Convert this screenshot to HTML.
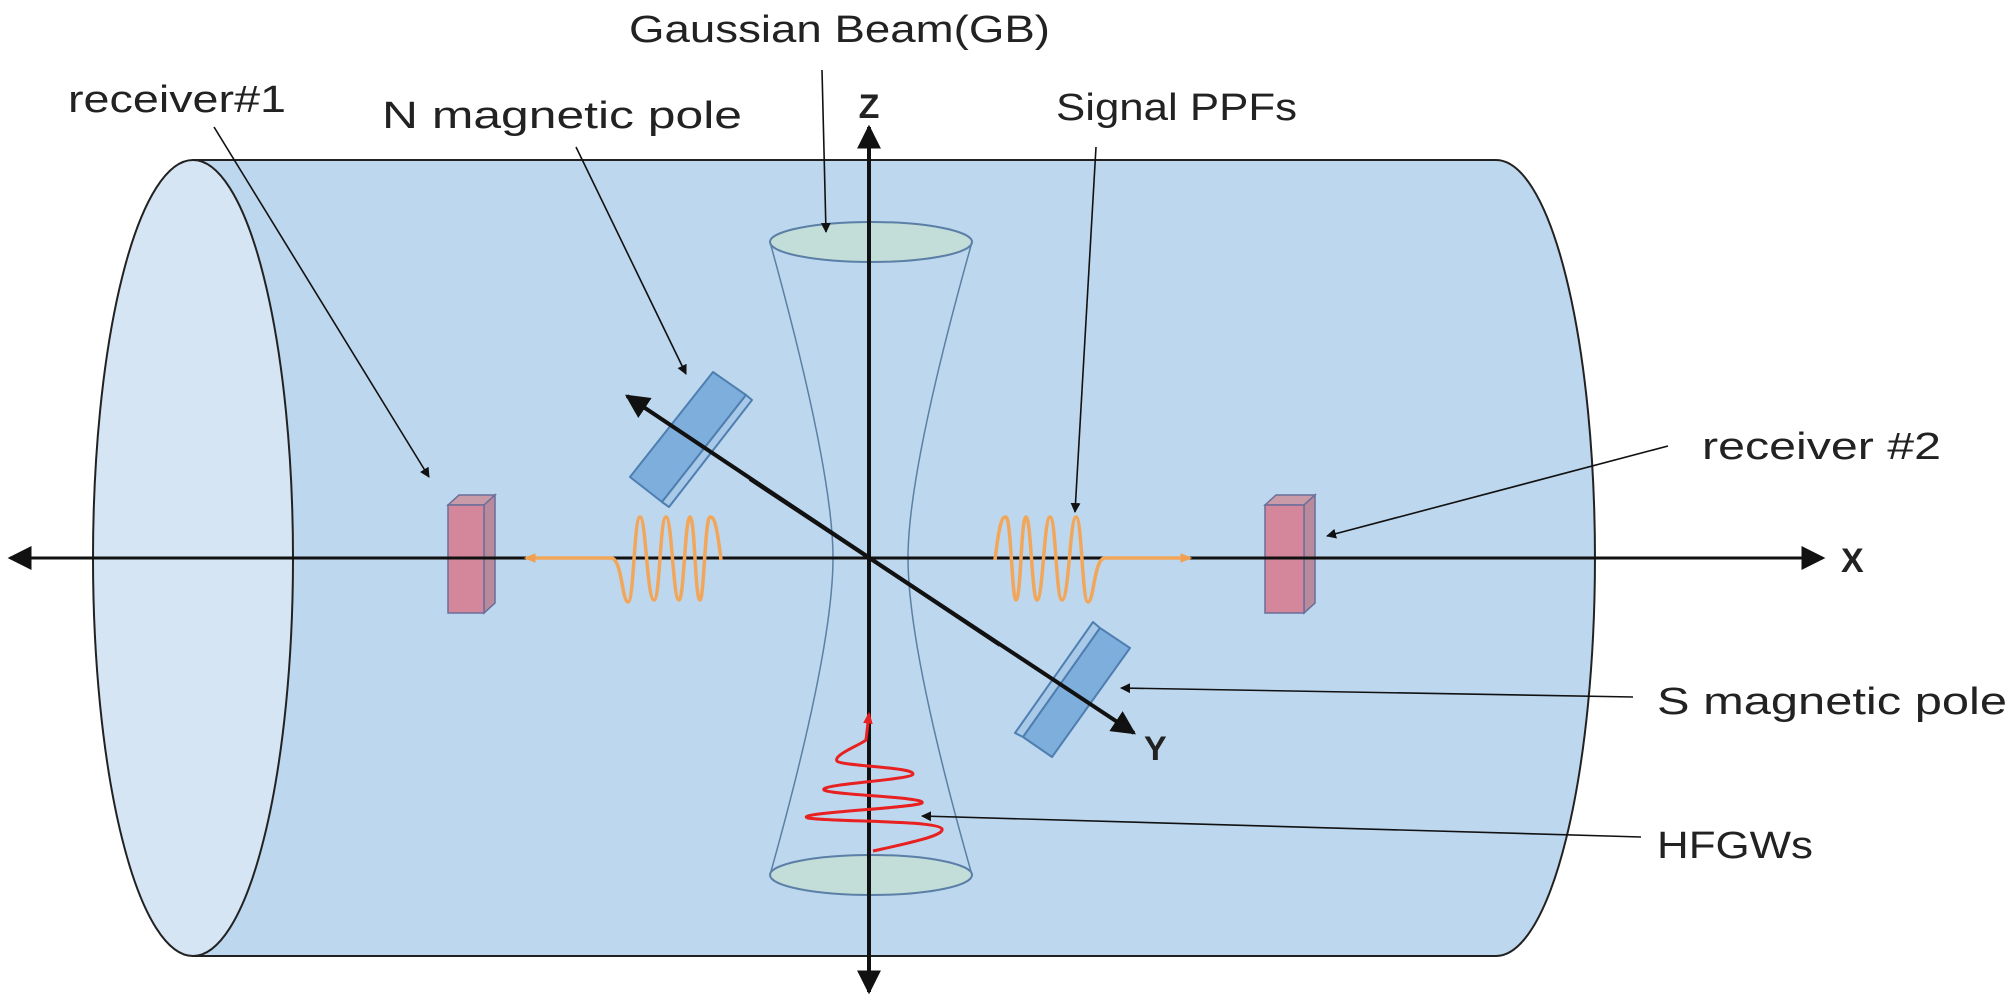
<!DOCTYPE html>
<html><head><meta charset="utf-8"><style>
html,body{margin:0;padding:0;background:#fff;}
svg{display:block;}
text{font-family:"Liberation Sans",sans-serif;fill:#222;}
</style></head><body>
<svg width="2009" height="1003" viewBox="0 0 2009 1003" xmlns="http://www.w3.org/2000/svg">
<defs>
<marker id="ah" viewBox="0 0 10 10" refX="9" refY="5" markerWidth="10" markerHeight="10" markerUnits="userSpaceOnUse" orient="auto"><path d="M0,0 L10,5 L0,10 z" fill="#111"/></marker>
<marker id="ab" viewBox="0 0 10 10" refX="9" refY="5" markerWidth="24" markerHeight="24" markerUnits="userSpaceOnUse" orient="auto"><path d="M0,0 L10,5 L0,10 z" fill="#111"/></marker>
<marker id="ao" viewBox="0 0 10 10" refX="8" refY="5" markerWidth="12" markerHeight="12" markerUnits="userSpaceOnUse" orient="auto"><path d="M0,1 L10,5 L0,9 z" fill="#f0a050"/></marker>
<marker id="ar" viewBox="0 0 10 10" refX="8" refY="5" markerWidth="12" markerHeight="12" markerUnits="userSpaceOnUse" orient="auto"><path d="M0,1 L10,5 L0,9 z" fill="#e82020"/></marker>
</defs>
<!-- cylinder body -->
<path d="M193,160 L1496,160 A99,398 0 0 1 1496,956 L193,956 Z" fill="#bdd7ee" stroke="#222" stroke-width="2"/>
<ellipse cx="193" cy="558" rx="100" ry="398" fill="#d5e5f4" stroke="#222" stroke-width="2"/>

<!-- gaussian beam -->
<path d="M770,242 Q833,470 833,558 Q833,650 770,875" fill="none" stroke="#5b7fa6" stroke-width="1.5"/>
<path d="M972,242 Q908,470 908,558 Q908,650 972,875" fill="none" stroke="#5b7fa6" stroke-width="1.5"/>
<ellipse cx="871" cy="242" rx="101" ry="20" fill="#c3ddd8" stroke="#5b7fa6" stroke-width="2"/>
<ellipse cx="871" cy="875" rx="101" ry="20" fill="#c3ddd8" stroke="#5b7fa6" stroke-width="2"/>

<!-- receivers -->
<g stroke="#6a6f9a" stroke-width="1.5">
<polygon points="448,505 459,495 495,495 484,505" fill="#c99aa8"/>
<polygon points="484,505 495,495 495,603 484,613" fill="#b88a9c"/>
<rect x="448" y="505" width="36" height="108" fill="#d4879a"/>
<polygon points="1265,505 1276,495 1315,495 1304,505" fill="#c99aa8"/>
<polygon points="1304,505 1315,495 1315,603 1304,613" fill="#b88a9c"/>
<rect x="1265" y="505" width="39" height="108" fill="#d4879a"/>
</g>

<!-- X axis -->
<line x1="1823" y1="558" x2="10" y2="558" stroke="#111" stroke-width="3" marker-end="url(#ab)"/>
<line x1="20" y1="558" x2="1823" y2="558" stroke="#111" stroke-width="3" marker-end="url(#ab)"/>
<!-- Z axis -->
<line x1="869" y1="980" x2="869" y2="127" stroke="#111" stroke-width="4" marker-end="url(#ab)"/>
<line x1="869" y1="140" x2="869" y2="992" stroke="#111" stroke-width="4" marker-end="url(#ab)"/>

<!-- N magnet -->
<g stroke="#4f7fb0" stroke-width="2" stroke-linejoin="round">
<polygon points="713,372 746,395 662,502 630,477" fill="#7eaedc"/>
<polygon points="746,395 752,400 669,507 662,502" fill="#a9c9e9"/>
</g>
<!-- S magnet -->
<g stroke="#4f7fb0" stroke-width="2" stroke-linejoin="round">
<polygon points="1093,622 1100,628 1023,737 1015,733" fill="#a9c9e9"/>
<polygon points="1100,628 1130,648 1052,757 1023,737" fill="#7eaedc"/>
</g>

<!-- Y axis -->
<line x1="1000" y1="645" x2="627" y2="396" stroke="#111" stroke-width="4" marker-end="url(#ab)"/>
<line x1="750" y1="479" x2="1134" y2="733" stroke="#111" stroke-width="4" marker-end="url(#ab)"/>

<!-- orange waves -->
<path id="rw" d="M995,560 C1000,517 1003,517 1006,517 C1011,517 1012,600 1016,600 C1021,600 1021,517 1026,517 C1031,517 1032,600 1037,600 C1043,600 1044,517 1050,517 C1056,517 1056,600 1062,600 C1069,600 1070,517 1076,517 C1082,517 1082,602 1088,602 C1094,602 1094,558 1105,558 L1190,558" fill="none" stroke="#f2a65a" stroke-width="3.5" marker-end="url(#ao)"/>
<path d="M721,560 C716,517 713,517 710,517 C705,517 704,600 700,600 C695,600 695,517 690,517 C685,517 684,600 679,600 C673,600 672,517 666,517 C660,517 660,600 654,600 C647,600 646,517 640,517 C634,517 634,602 628,602 C622,602 622,558 611,558 L526,558" fill="none" stroke="#f2a65a" stroke-width="3.5" marker-end="url(#ao)"/>

<!-- red wave -->
<path d="M873,851 C900,845 945,836 942,829 C938,820 830,822 808,818 C790,813 915,808 922,803 C928,797 830,795 824,790 C818,784 912,780 913,774 C914,767 840,766 837,761 C833,755 860,745 866,740 L869,714" fill="none" stroke="#e82020" stroke-width="3" marker-end="url(#ar)"/>

<!-- leader lines -->
<g stroke="#111" stroke-width="1.6" fill="none" marker-end="url(#ah)">
<line x1="214" y1="127" x2="429" y2="477"/>
<line x1="576" y1="147" x2="686" y2="374"/>
<line x1="822" y1="70" x2="826" y2="232"/>
<line x1="1096" y1="147" x2="1075" y2="512"/>
<line x1="1668" y1="446" x2="1327" y2="536"/>
<line x1="1633" y1="697" x2="1121" y2="688"/>
<line x1="1641" y1="837" x2="922" y2="816"/>
</g>

<!-- labels -->
<g font-size="38">
<text x="629" y="42" textLength="421" lengthAdjust="spacingAndGlyphs">Gaussian Beam(GB)</text>
<text x="68" y="112" textLength="218" lengthAdjust="spacingAndGlyphs">receiver#1</text>
<text x="382" y="128" textLength="360" lengthAdjust="spacingAndGlyphs">N magnetic pole</text>
<text x="1056" y="120" textLength="241" lengthAdjust="spacingAndGlyphs">Signal PPFs</text>
<text x="1702" y="459" textLength="239" lengthAdjust="spacingAndGlyphs">receiver #2</text>
<text x="1657" y="714" textLength="350" lengthAdjust="spacingAndGlyphs">S magnetic pole</text>
<text x="1657" y="858" textLength="156" lengthAdjust="spacingAndGlyphs">HFGWs</text>
</g>
<g font-size="34" font-weight="bold">
<text x="869" y="118" text-anchor="middle">Z</text>
<text x="1841" y="572">X</text>
<text x="1144" y="760">Y</text>
</g>
</svg>
</body></html>
